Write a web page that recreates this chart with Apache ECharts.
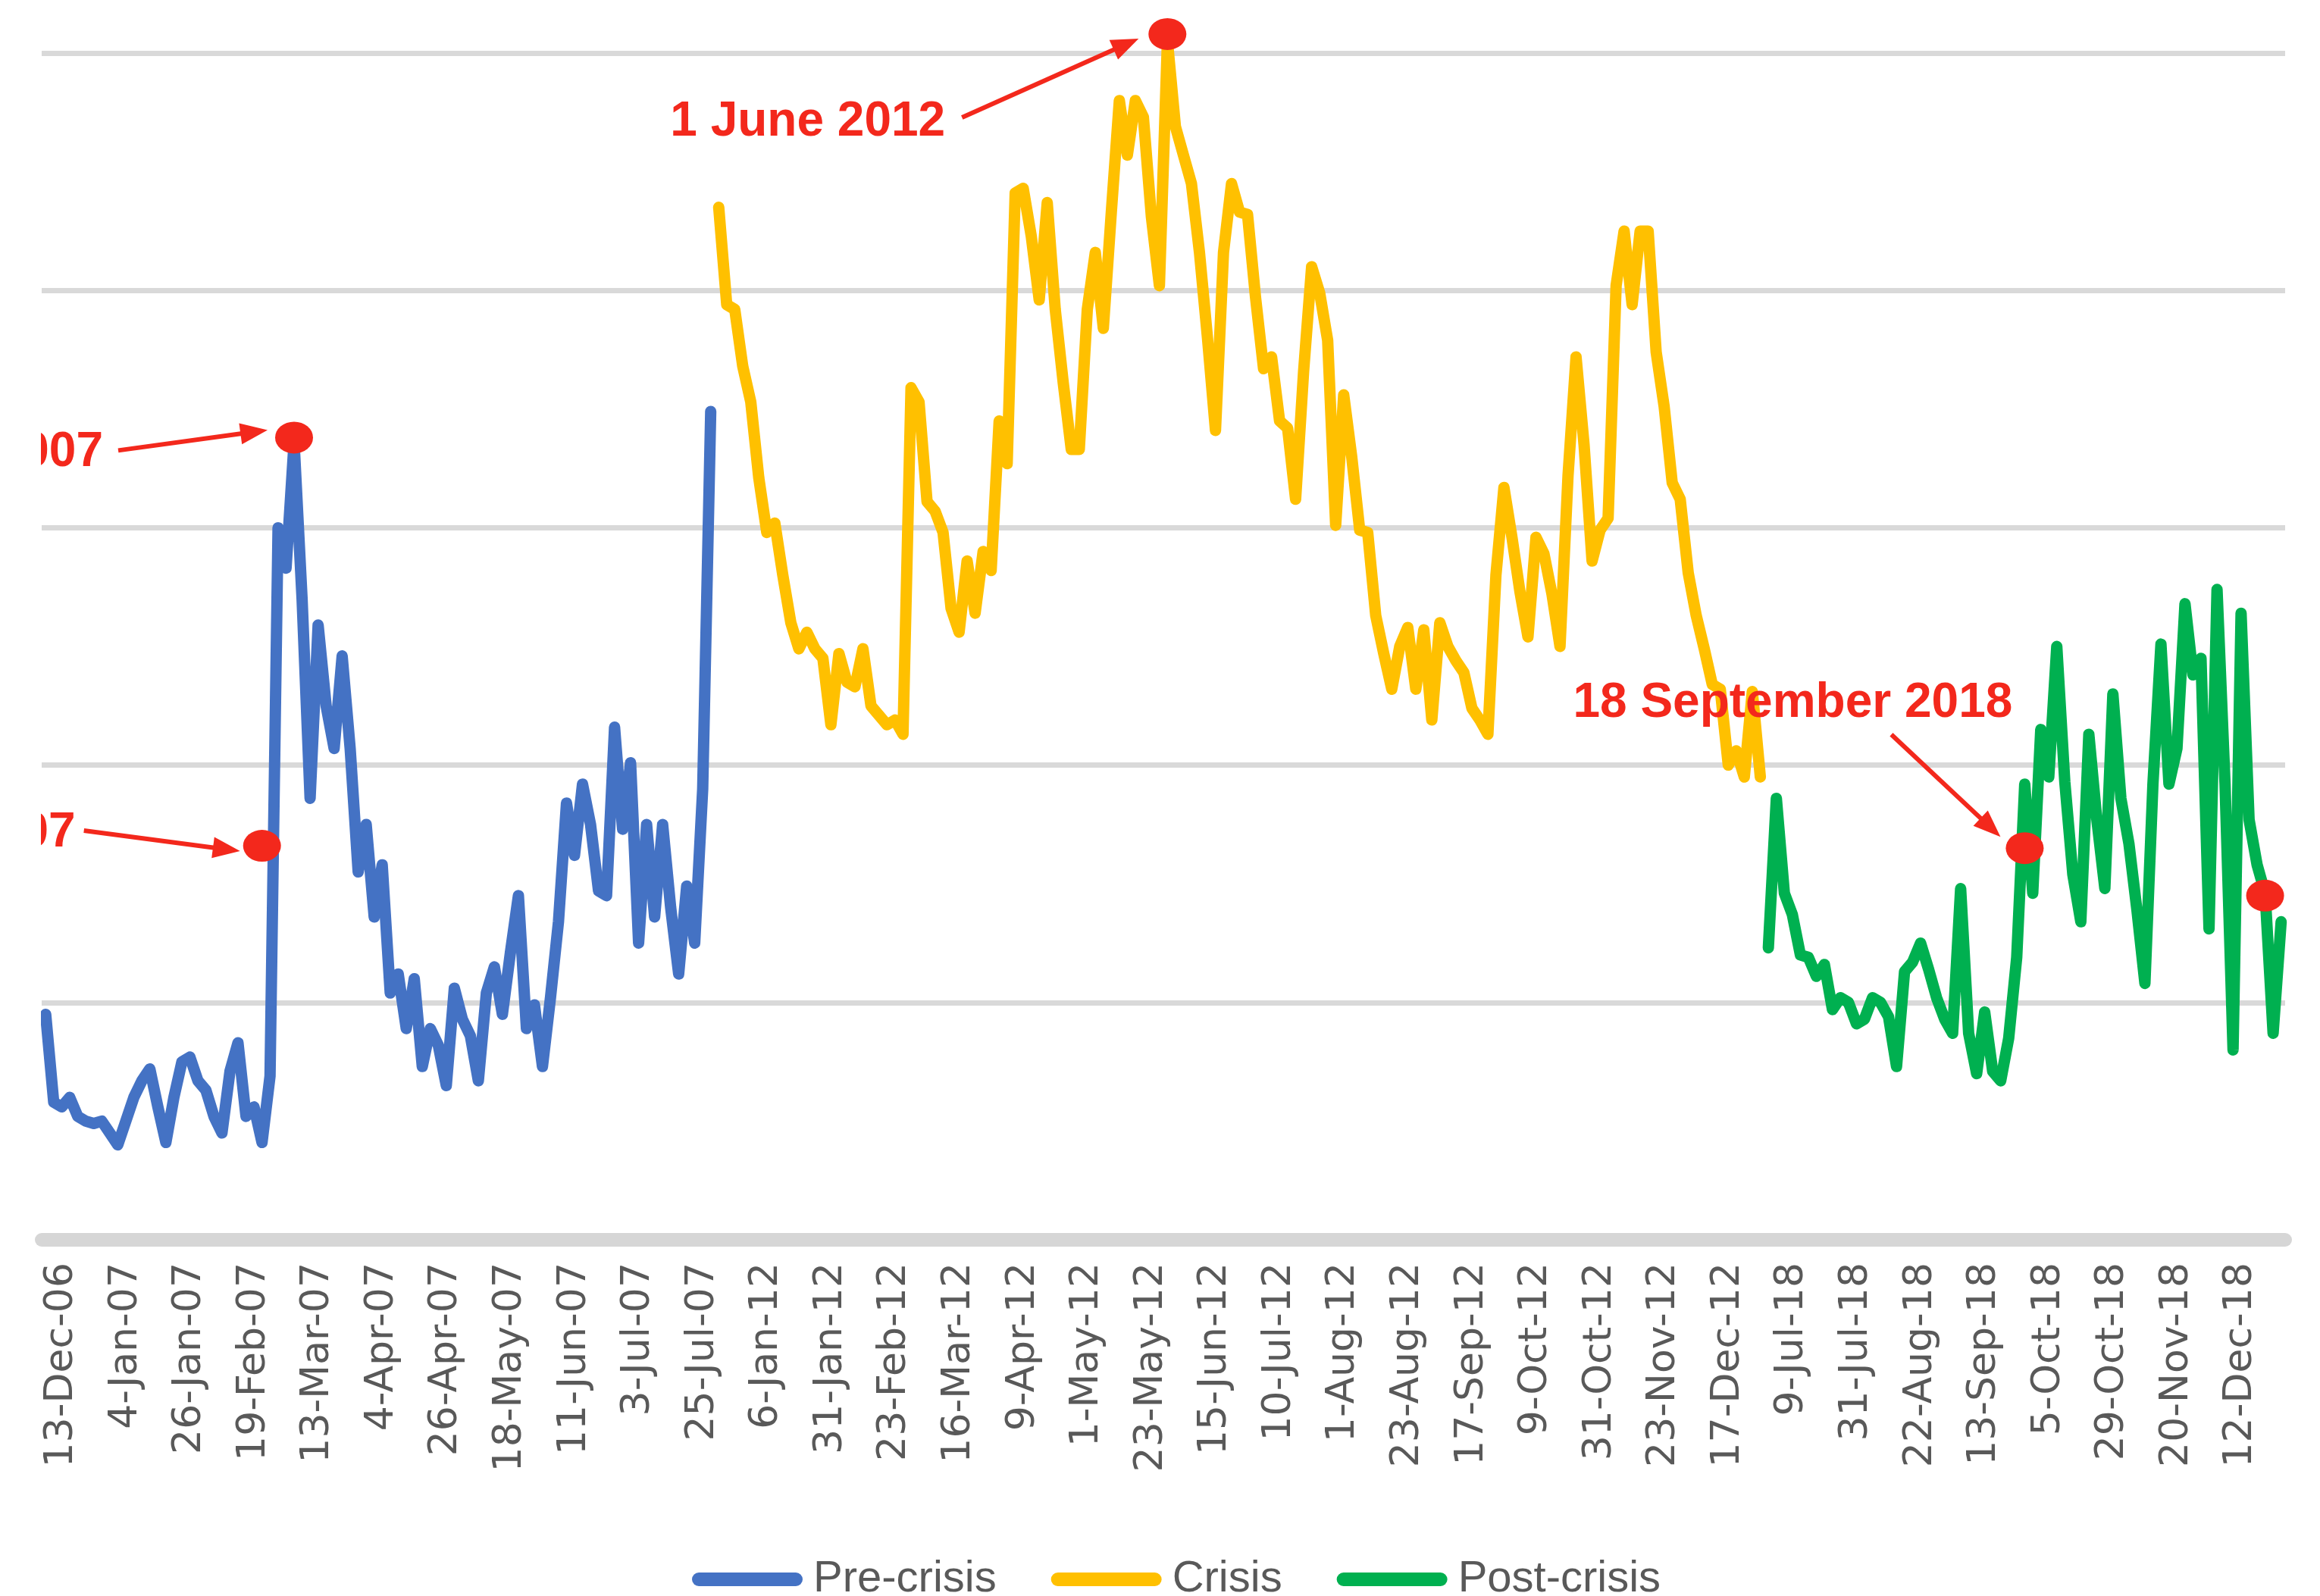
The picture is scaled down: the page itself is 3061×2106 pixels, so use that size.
<!DOCTYPE html>
<html>
<head>
<meta charset="utf-8">
<script src="https://cdn.jsdelivr.net/npm/echarts/dist/echarts.min.js"></script>
<style>
  html, body { margin: 0; padding: 0; background: #fff; }
  #main { width: 3061px; height: 2106px; }
</style>
</head>
<body>
<div id="main"></div>
<script>
// labels under the axis, one every 8 points
const tickLabels = ['13-Dec-06', '4-Jan-07', '26-Jan-07', '19-Feb-07', '13-Mar-07', '4-Apr-07', '26-Apr-07',
  '18-May-07', '11-Jun-07', '3-Jul-07', '25-Jul-07', '6-Jan-12', '31-Jan-12', '23-Feb-12', '16-Mar-12',
  '9-Apr-12', '1-May-12', '23-May-12', '15-Jun-12', '10-Jul-12', '1-Aug-12', '23-Aug-12', '17-Sep-12',
  '9-Oct-12', '31-Oct-12', '23-Nov-12', '17-Dec-12', '9-Jul-18', '31-Jul-18', '22-Aug-18', '13-Sep-18',
  '5-Oct-18', '29-Oct-18', '20-Nov-18', '12-Dec-18'];
const pointsPerTick = 8;
const leadPoints = 2;     // points before the first label (chart is cropped on the left)
const totalPoints = 280;

const preCrisis = [0.95, 0.58, 0.56, 0.60, 0.52, 0.50, 0.49, 0.50, 0.45, 0.40,
  0.50, 0.60, 0.67, 0.72, 0.56, 0.41, 0.60, 0.75, 0.77, 0.67,
  0.63, 0.52, 0.45, 0.71, 0.83, 0.52, 0.56, 0.41, 0.69, 3.00,
  2.83, 3.36, 2.70, 1.86, 2.59, 2.25, 2.07, 2.46, 2.07, 1.55,
  1.75, 1.36, 1.58, 1.04, 1.12, 0.89, 1.10, 0.73, 0.89, 0.82,
  0.65, 1.06, 0.93, 0.86, 0.67, 1.04, 1.15, 0.95, 1.21, 1.45,
  0.89, 0.99, 0.73, 1.02, 1.34, 1.84, 1.62, 1.92, 1.75, 1.47,
  1.45, 2.16, 1.73, 2.01, 1.25, 1.75, 1.36, 1.75, 1.40, 1.12,
  1.49, 1.25, 1.90, 3.49];

const crisis = [4.35, 3.94, 3.92, 3.68, 3.53, 3.21, 2.98, 3.02, 2.80, 2.60,
  2.49, 2.56, 2.49, 2.45, 2.17, 2.47, 2.35, 2.33, 2.49, 2.25,
  2.21, 2.17, 2.19, 2.13, 3.59, 3.53, 3.11, 3.07, 2.98, 2.66,
  2.56, 2.86, 2.64, 2.90, 2.82, 3.45, 3.27, 4.41, 4.43, 4.23,
  3.96, 4.37, 3.92, 3.61, 3.33, 3.33, 3.92, 4.16, 3.84, 4.33,
  4.80, 4.57, 4.80, 4.73, 4.31, 4.02, 5.05, 4.69, 4.57, 4.45,
  4.16, 3.80, 3.41, 4.16, 4.45, 4.33,
  4.32, 3.97, 3.67, 3.72, 3.45, 3.42, 3.12, 3.66, 4.10, 3.99,
  3.79, 3.01, 3.56, 3.30, 2.99, 2.98, 2.63, 2.47, 2.32, 2.50,
  2.58, 2.32, 2.57, 2.19, 2.60, 2.50, 2.44, 2.39, 2.24, 2.19,
  2.13, 2.80, 3.17, 2.96, 2.73, 2.54, 2.96, 2.89, 2.72, 2.50,
  3.22, 3.72, 3.35, 2.86, 2.99, 3.04, 4.02, 4.25, 3.94, 4.25,
  4.25, 3.74, 3.51, 3.19, 3.12, 2.81, 2.63, 2.49, 2.34, 2.32,
  2.00, 2.06, 1.95, 2.31, 1.95];

const postCrisis = [1.23, 1.86, 1.46, 1.37, 1.20, 1.19, 1.11, 1.16, 0.97, 1.02,
  1.00, 0.91, 0.93, 1.02, 1.00, 0.94, 0.73, 1.13, 1.17, 1.25,
  1.14, 1.02, 0.93, 0.87, 1.48, 0.87, 0.70, 0.96, 0.71, 0.67,
  0.85, 1.19, 1.92, 1.46, 2.15, 1.95, 2.50, 1.93, 1.54, 1.34,
  2.13, 1.77, 1.48, 2.30, 1.86, 1.67, 1.39, 1.08, 1.92, 2.51,
  1.92, 2.07, 2.68, 2.38, 2.45, 1.31, 2.74, 1.92, 0.80, 2.64,
  1.77, 1.58, 1.46, 0.87, 1.34];

// highlighted days (red dots)
const dotIndex = [27, 31, 140, 247, 277];
const dotValue = [1.66, 3.38, 5.08, 1.65, 1.45];

const categories = [];
for (let i = 0; i < totalPoints; i++) {
  const k = (i - leadPoints) / pointsPerTick;
  categories.push(Number.isInteger(k) && k >= 0 && k < tickLabels.length ? tickLabels[k] : '');
}

function pad(values, start) {
  const out = new Array(totalPoints).fill(null);
  values.forEach((v, j) => { out[start + j] = v; });
  return out;
}

const RED = '#F3281C';
const lineStyle = (color) => ({ color: color, width: 15, join: 'round', cap: 'round' });

const chart = echarts.init(document.getElementById('main'));
const option = {
  animation: false,
  backgroundColor: '#fff',
  grid: { left: 55, right: 46, top: 70, bottom: 470, outerBoundsMode: 'none' },
  legend: {
    data: ['Pre-crisis', 'Crisis', 'Post-crisis'],
    left: 908,
    top: 2050,
    itemWidth: 146,
    itemHeight: 18,
    itemGap: 72,
    icon: 'path://M9 0H137A9 9 0 0 1 137 18H9A9 9 0 0 1 9 0Z',
    textStyle: { fontSize: 58, fontFamily: 'Liberation Sans', color: '#595959', padding: [0, 0, 0, 9] }
  },
  xAxis: {
    type: 'category',
    data: categories,
    boundaryGap: true,
    axisLine: { lineStyle: { color: '#d6d6d6', width: 18 } },
    axisTick: { show: false },
    axisLabel: {
      interval: (idx) => categories[idx] !== '',
      rotate: 90,
      margin: 30,
      color: '#595959',
      fontSize: 52,
      fontFamily: 'DejaVu Sans'
    },
    splitLine: { show: false }
  },
  yAxis: {
    type: 'value',
    min: 0,
    max: 5,
    interval: 1,
    axisLabel: { show: false },
    axisLine: { show: false },
    axisTick: { show: false },
    splitLine: { lineStyle: { color: '#d9d9d9', width: 7 } }
  },
  series: [
    {
      name: 'Pre-crisis', type: 'line', data: pad(preCrisis, 0),
      showSymbol: false, symbol: 'none', lineStyle: lineStyle('#4472C4'), itemStyle: { color: '#4472C4' }
    },
    {
      name: 'Crisis', type: 'line', data: pad(crisis, preCrisis.length),
      showSymbol: false, symbol: 'none', lineStyle: lineStyle('#FFC000'), itemStyle: { color: '#FFC000' }
    },
    {
      name: 'Post-crisis', type: 'line', data: pad(postCrisis, preCrisis.length + crisis.length),
      showSymbol: false, symbol: 'none', lineStyle: lineStyle('#00B050'), itemStyle: { color: '#00B050' }
    },
    {
      name: 'dots', type: 'scatter', clip: false, silent: true, z: 5,
      data: dotIndex.map((idx, j) => [idx, dotValue[j]]),
      symbol: 'circle', symbolSize: [50, 42],
      itemStyle: { color: RED, opacity: 1 }
    }
  ]
};
chart.setOption(option);

// annotations, placed relative to the dot they point at
const notes = [
  { dot: 0, text: '27 February 2007', align: 'right', at: [-246, -17], from: [-235, -20], to: [-29, 7] },
  { dot: 1, text: '5 March 2007', align: 'right', at: [-252, 20], from: [-232, 17], to: [-35, -10] },
  { dot: 2, text: '1 June 2012', align: 'left', at: [-656, 116], from: [-271, 110], to: [-38, 6] },
  { dot: 3, text: '18 September 2018', align: 'left', at: [-596, -191], from: [-176, -150], to: [-32, -15] }
];
const graphics = [];
notes.forEach(n => {
  const p = chart.convertToPixel({ gridIndex: 0 }, [dotIndex[n.dot], dotValue[n.dot]]);
  const sx = p[0] + n.from[0], sy = p[1] + n.from[1];
  const tx = p[0] + n.to[0], ty = p[1] + n.to[1];
  const len = Math.hypot(tx - sx, ty - sy);
  const dx = (tx - sx) / len, dy = (ty - sy) / len;
  const head = 36, half = 14;
  const bx = tx - dx * head, by = ty - dy * head;
  graphics.push({
    type: 'text', z: 100,
    x: p[0] + n.at[0], y: p[1] + n.at[1],
    style: {
      text: n.text, fill: RED, font: 'bold 64px "Liberation Sans"',
      align: n.align, textAlign: n.align, verticalAlign: 'middle', textVerticalAlign: 'middle'
    }
  });
  graphics.push({
    type: 'line', z: 100,
    shape: { x1: sx, y1: sy, x2: bx + dx * 4, y2: by + dy * 4 },
    style: { stroke: RED, lineWidth: 6 }
  });
  graphics.push({
    type: 'polygon', z: 100,
    shape: { points: [[tx, ty], [bx - dy * half, by + dx * half], [bx + dy * half, by - dx * half]] },
    style: { fill: RED }
  });
});
// white margin on the left, the source picture was cropped there
graphics.push({ type: 'rect', z: 200, left: 0, top: 0, shape: { width: 54, height: 1620 }, style: { fill: '#fff' } });
chart.setOption({ graphic: graphics });
</script>
</body>
</html>
